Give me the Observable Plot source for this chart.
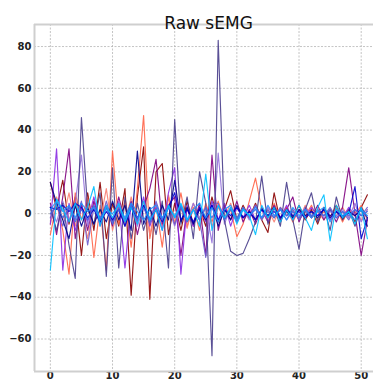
<!DOCTYPE html>
<html><head><meta charset="utf-8">
<script src="https://cdn.jsdelivr.net/npm/d3@7"></script>
<script src="https://cdn.jsdelivr.net/npm/@observablehq/plot@0.6"></script>
<style>body{margin:0;background:#fff;overflow:hidden;} svg{display:block;}</style>
</head><body><div id="chart"></div>
<script>
const titleText = "Raw sEMG";
const xTicks = [0, 10, 20, 30, 40, 50];
const yTicks = [-60, -40, -20, 0, 20, 40, 60, 80];

const darkred = [15,2,16,-5,8,-20,10,-8,15,-12,5,-6,12,-39,8,32,-41,20,24,-10,5,-8,6,-5,3,-6,8,-4,2,11,-3,4,-2,5,-3,-9,10,-4,3,-2,4,-3,2,-5,3,-2,4,-3,2,-4,3,9];
const tomato = [-10,5,-8,-29,10,-3,8,-21,4,-27,30,-5,6,-16,12,47,-12,4,-16,8,-5,10,-6,3,-8,5,-4,6,-3,2,-11,-5,6,17,2,-4,5,-2,3,-4,2,-1,4,-3,1,-2,3,-4,2,-1,4,-3];
const salmon = [-5,8,-3,10,-6,4,-12,6,-4,12,-8,3,-5,8,-3,6,-10,4,-6,9,-4,3,-7,5,-3,4,-6,3,-2,5,-4,3,-2,4,-3,2,-4,3,-1,2,-3,4,-2,1,-3,2,-1,3,-2,1,-3,2];
const purple = [5,-10,8,31,-12,5,-8,6,-3,4,-6,8,-4,6,-10,3,12,26,-5,4,8,-20,3,-6,5,-20,28,-8,4,-3,6,-4,2,-5,3,-2,4,-3,2,8,-4,3,-2,4,-3,2,-4,3,22,0,-20,-3];
const blueviolet = [-5,31,-27,5,-8,3,-4,8,-6,4,-3,6,-26,5,-4,8,-6,3,-8,10,22,-29,4,-6,3,-4,6,-3,5,-6,3,-2,4,-3,2,-4,3,-2,4,-3,2,-2,3,-1,2,-3,1,-2,3,-1,2,-2];
const mediumpurple = [3,-4,6,-3,5,28,-6,4,-5,3,-4,6,-3,4,-6,3,-2,5,-4,3,-6,4,-3,5,-2,3,-14,29,-5,3,-4,2,-3,4,-2,3,-1,2,-3,1,-2,3,-1,2,-2,1,-1,2,-2,5,-4,2];
const darkslateblue = [3,-8,5,-15,-31,46,2,-5,10,-30,22,-26,8,-12,5,-8,3,-10,6,-26,45,-5,8,-12,20,5,-68,83,-3,-18,-20,-19,-12,-4,18,-5,3,-6,15,-3,-17,2,10,-4,3,-8,8,-3,2,-6,3,-2];
const slateblue = [-2,5,-6,4,-3,6,-15,3,-5,6,-4,3,-6,5,-3,4,-5,6,-3,4,-5,3,-4,2,-3,-21,5,5,-3,2,-4,3,-2,4,-3,2,-2,3,-1,2,-3,1,-2,2,-1,3,-2,1,-3,2,-1,3];
const navy = [15,5,-3,-12,4,-6,3,-5,2,-4,6,-3,4,-8,30,-5,3,-6,4,-3,16,-4,3,-5,2,-3,4,-6,2,-3,4,-2,1,-3,2,-1,3,-2,1,-2,2,-1,1,-2,2,-1,1,-2,1,-1,2,-6];
const mediumblue = [3,2,4,1,5,3,-2,2,-4,1,-3,2,-6,3,-2,4,-3,2,-4,3,10,-3,2,-4,3,-2,4,-3,2,-1,3,-2,1,-3,2,-1,1,-2,2,-1,1,-2,1,-1,2,-2,1,-1,0,13,-12,-2];
const royalblue = [0,4,-2,3,-4,2,-3,4,-2,3,-5,2,-3,4,-2,3,-4,2,-3,4,-2,3,-4,2,-3,3,-2,4,-3,2,-2,3,-1,2,-2,1,-2,2,-1,1,-2,2,-1,1,-1,2,-2,1,-1,2,-1,1];
const dodgerblue = [2,6,1,4,-2,5,1,3,-3,2,0,4,-2,5,1,-3,2,4,-2,3,-1,4,-3,2,5,-2,3,-4,2,4,-3,2,-1,3,-2,4,-1,2,-3,3,-1,2,-2,1,3,-4,2,-1,1,-3,2,-1];
const deepskyblue = [-27,7,2,-4,5,-3,3,13,-6,4,-2,5,-4,3,-5,6,-3,2,-8,4,-2,5,-3,2,-6,19,-8,4,-2,3,-5,2,-1,-10,4,-2,3,-4,2,-3,4,-2,-8,3,9,-13,4,-2,1,-5,3,-12];

const seriesList = [
  ["darkred", darkred, "#8B0000"],
  ["tomato", tomato, "#FF6347"],
  ["salmon", salmon, "#FA8072"],
  ["purple", purple, "#800080"],
  ["blueviolet", blueviolet, "#8A2BE2"],
  ["mediumpurple", mediumpurple, "#9370DB"],
  ["slateblue", slateblue, "#6A5ACD"],
  ["darkslateblue", darkslateblue, "#483D8B"],
  ["navy", navy, "#00008B"],
  ["mediumblue", mediumblue, "#0000CD"],
  ["royalblue", royalblue, "#4169E1"],
  ["dodgerblue", dodgerblue, "#1E90FF"],
  ["deepskyblue", deepskyblue, "#00BFFF"]
];

const xDomain = [-2.55, 51.98];
const yDomain = [-75.55, 90.55];

const lineMarks = seriesList.map(([name, vals, color]) =>
  Plot.lineY(vals.map((v, i) => ({t: i, v, ch: name})), {x: "t", y: "v", stroke: color, strokeWidth: 1.15, strokeOpacity: 0.9})
);

const chart = Plot.plot({
  width: 373,
  height: 381,
  marginTop: 24,
  marginLeft: 34,
  marginRight: 0,
  marginBottom: 10,
  style: {fontFamily: "DejaVu Sans", fontSize: "10px", fontWeight: "bold", color: "#222", background: "#fff", overflow: "visible"},
  x: {domain: xDomain, ticks: xTicks, label: null, tickSize: 0, tickPadding: 0},
  y: {domain: yDomain, ticks: yTicks, label: null, tickSize: 0, tickPadding: 3},
  marks: [
    Plot.gridX(xTicks, {stroke: "#b5b5b5", strokeOpacity: 1, strokeDasharray: "2,1.5", strokeWidth: 0.8}),
    Plot.gridY(yTicks, {stroke: "#b5b5b5", strokeOpacity: 1, strokeDasharray: "2,1.5", strokeWidth: 0.8}),
    ...lineMarks,
    Plot.ruleX([xDomain[0]], {stroke: "#cfcfcf", strokeWidth: 2}),
    Plot.ruleY([yDomain[0], yDomain[1]], {stroke: "#cfcfcf", strokeWidth: 2}),
    Plot.text([titleText], {frameAnchor: "top", dy: -8, dx: 4.5, fontSize: 17, fontWeight: "normal", fill: "#111"})
  ]
});
document.getElementById("chart").appendChild(chart);
</script>
</body></html>
